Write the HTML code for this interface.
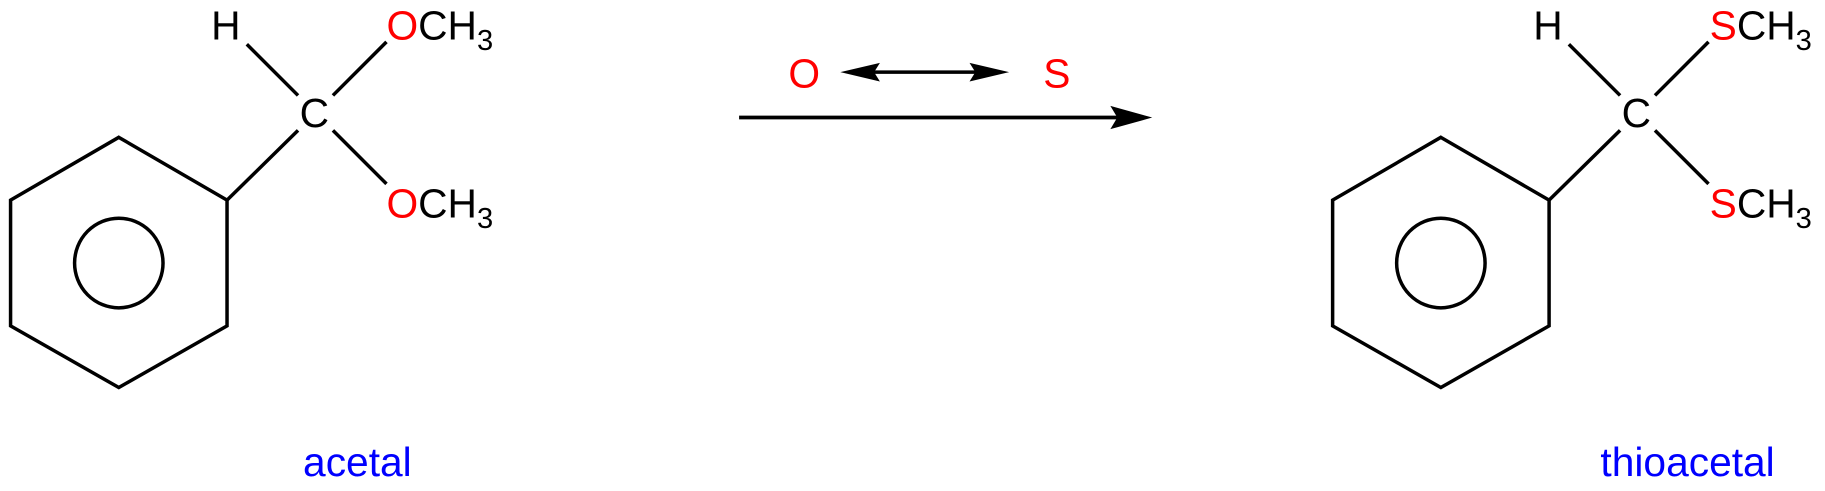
<!DOCTYPE html>
<html><head><meta charset="utf-8"><style>
html,body{margin:0;padding:0;background:#fff;width:1825px;height:491px;overflow:hidden}
svg{display:block}
text{font-family:"Liberation Sans",Arial,sans-serif}
</style></head><body>
<svg width="1825" height="491" viewBox="0 0 1568 421.9" xmlns="http://www.w3.org/2000/svg">
<g fill="none" stroke="#000" stroke-width="3">
<polygon points="102,118 195,172 195,280 102,333 9,280 9,172"/>
<ellipse cx="102" cy="226" rx="38" ry="38.5"/>
<line x1="195" y1="172" x2="256" y2="112"/>
<line x1="212" y1="38" x2="256" y2="82"/>
<line x1="286" y1="82" x2="332" y2="36"/>
<line x1="286" y1="112" x2="332" y2="158"/>
</g>
<g font-size="35">
<text x="194" y="34" text-anchor="middle">H</text>
<text x="270" y="109" text-anchor="middle">C</text>
<text x="332" y="34"><tspan fill="#f00">O</tspan>CH<tspan font-size="25" dy="9">3</tspan></text>
<text x="332" y="187"><tspan fill="#f00">O</tspan>CH<tspan font-size="25" dy="9">3</tspan></text>
<text x="307" y="409" text-anchor="middle" fill="#00f">acetal</text>
</g>
<g transform="translate(1136,0)">
<g fill="none" stroke="#000" stroke-width="3">
<polygon points="102,118 195,172 195,280 102,333 9,280 9,172"/>
<ellipse cx="102" cy="226" rx="38" ry="38.5"/>
<line x1="195" y1="172" x2="256" y2="112"/>
<line x1="212" y1="38" x2="256" y2="82"/>
<line x1="286" y1="82" x2="332" y2="36"/>
<line x1="286" y1="112" x2="332" y2="158"/>
</g>
<g font-size="35">
<text x="194" y="34" text-anchor="middle">H</text>
<text x="270" y="109" text-anchor="middle">C</text>
<text x="333" y="34"><tspan fill="#f00">S</tspan>CH<tspan font-size="25" dy="9">3</tspan></text>
<text x="333" y="187"><tspan fill="#f00">S</tspan>CH<tspan font-size="25" dy="9">3</tspan></text>
<text x="314" y="409" text-anchor="middle" fill="#00f">thioacetal</text>
</g>
</g>
<g font-size="35" fill="#f00">
<text x="691" y="75" text-anchor="middle">O</text>
<text x="908" y="75" text-anchor="middle">S</text>
</g>
<line x1="745" y1="62" x2="845" y2="62" stroke="#000" stroke-width="3"/>
<polygon points="722,62 756,54 751,62 756,70" fill="#000"/>
<polygon points="867,62 833,54 838,62 833,70" fill="#000"/>
<line x1="635" y1="101" x2="965" y2="101" stroke="#000" stroke-width="3.2"/>
<polygon points="990,101 954,91 960,101 954,111" fill="#000"/>
</svg>
</body></html>
